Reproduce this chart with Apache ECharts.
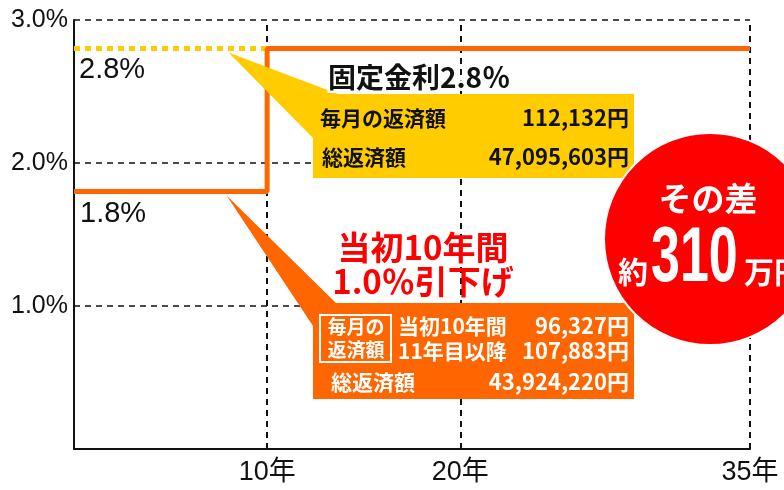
<!DOCTYPE html>
<html>
<head>
<meta charset="utf-8">
<script src="https://cdn.jsdelivr.net/npm/echarts@6/dist/echarts.min.js"></script>
<style>
  html, body { margin: 0; padding: 0; background: #fff; }
  #chart { width: 784px; height: 490px; }
</style>
</head>
<body>
<div id="chart"></div>
<script>
// 金利の推移（年, %）
const years = [0, 10, 35];
const rateReduced = [1.8, 2.8, 2.8];   // 当初10年間 1.0%引下げ
const fixedYears = [0, 35];
const rateFixed = [2.8, 2.8];          // 固定金利
const xTickLabels = { 10: '10年', 20: '20年', 35: '35年' };
const gridYears = [10, 20, 35];

// 返済額
const fixedRows = [['毎月の返済額', '112,132円'], ['総返済額', '47,095,603円']];
const reducedRows = [['当初10年間', '96,327円'], ['11年目以降', '107,883円']];
const reducedTotal = ['総返済額', '43,924,220円'];

const JP = '"Noto Sans CJK JP", sans-serif';
const LAT = '"Liberation Sans", Arial, "Noto Sans CJK JP", sans-serif';

const chart = echarts.init(document.getElementById('chart'));

let option = {
  animation: false,
  backgroundColor: '#fff',
  grid: { left: 74, right: 34, top: 20, bottom: 41 },
  xAxis: {
    type: 'value',
    min: 0,
    max: 35,
    interval: 5,
    axisLine: { lineStyle: { color: '#111', width: 2 } },
    axisTick: { show: false },
    splitLine: { show: false },
    axisLabel: {
      margin: 10,
      fontSize: 27,
      fontFamily: LAT,
      color: '#111',
      formatter: v => xTickLabels[v] || ''
    }
  },
  yAxis: {
    type: 'value',
    min: 0,
    max: 3,
    interval: 1,
    axisLine: { show: true, lineStyle: { color: '#111', width: 2 } },
    axisTick: { show: false },
    splitLine: { lineStyle: { color: '#111', type: [6, 5], width: 1.5 } },
    axisLabel: {
      margin: 6,
      fontSize: 25,
      fontFamily: LAT,
      color: '#111',
      formatter: v => (v === 0 ? '' : v.toFixed(1) + '%')
    }
  },
  series: [
    {
      name: '固定金利',
      type: 'line',
      symbol: 'none',
      z: 2,
      data: fixedYears.map((x, i) => [x, rateFixed[i]]),
      lineStyle: { color: '#ffcc00', width: 5, type: [6, 5] },
      markLine: {
        silent: true,
        z: 1,
        symbol: 'none',
        label: { show: false },
        lineStyle: { color: '#111', type: [6, 5], width: 2 },
        data: gridYears.map(x => ({ xAxis: x }))
      }
    },
    {
      name: '引下げ',
      type: 'line',
      step: 'end',
      symbol: 'none',
      z: 3,
      data: years.map((x, i) => [x, rateReduced[i]]),
      lineStyle: { color: '#ff6600', width: 5 }
    }
  ]
};
chart.setOption(option);

// 吹き出しの先端はデータ座標から
const p = (x, y) => chart.convertToPixel({ gridIndex: 0 }, [x, y]);
const tipY = p(8, rateFixed[0]);
const tipO = p(7.9, rateReduced[0]);
const lbl28 = p(0, rateFixed[0]);
const lbl18 = p(0, rateReduced[0]);

function txt(x, y, text, size, color, align, extra) {
  return Object.assign({
    type: 'text', x: x, y: y, z: 100,
    style: {
      text: text, fill: color,
      font: 'bold ' + size + 'px ' + JP,
      textAlign: align || 'left', textVerticalAlign: 'middle'
    }
  }, extra || {});
}

const g = [];
// 線ラベル
g.push({ type: 'text', x: lbl28[0] + 5, y: lbl28[1] + 21, z: 100,
  style: { text: '2.8%', fill: '#111', font: '29px ' + LAT, textVerticalAlign: 'middle' } });
g.push({ type: 'text', x: lbl18[0] + 6, y: lbl18[1] + 22, z: 100,
  style: { text: '1.8%', fill: '#111', font: '29px ' + LAT, textVerticalAlign: 'middle' } });

// 固定金利の吹き出し
g.push({ type: 'polygon', z: 90, shape: { points: [[tipY[0], tipY[1] + 4], [338, 94], [313, 94], [313, 138]] }, style: { fill: '#ffcc00' } });
g.push({ type: 'rect', z: 90, shape: { x: 313, y: 94, width: 321, height: 84 }, style: { fill: '#ffcc00' } });
g.push({ type: 'text', x: 328, y: 77, z: 99,
  style: { text: '固定金利2.8％', fill: '#fff', stroke: '#fff', lineWidth: 5, font: 'bold 28px ' + JP, textVerticalAlign: 'middle' } });
g.push(txt(328, 77, '固定金利2.8％', 28, '#111'));
g.push(txt(320, 118, fixedRows[0][0], 21, '#111'));
g.push(txt(629, 118, fixedRows[0][1], 22, '#111', 'right'));
g.push(txt(322, 157, fixedRows[1][0], 21, '#111'));
g.push(txt(629, 157, fixedRows[1][1], 22, '#111', 'right'));

// 引下げの吹き出し
g.push({ type: 'polygon', z: 90, shape: { points: [[tipO[0], tipO[1] + 4], [336, 303], [313, 303], [313, 326]] }, style: { fill: '#ff6600' } });
g.push({ type: 'rect', z: 90, shape: { x: 313, y: 303, width: 321, height: 96 }, style: { fill: '#ff6600' } });
g.push({ type: 'rect', z: 95, shape: { x: 320, y: 315, width: 71, height: 47 }, style: { fill: 'none', stroke: '#fff', lineWidth: 2 } });
g.push(txt(356, 327, '毎月の', 19, '#fff', 'center'));
g.push(txt(356, 350, '返済額', 19, '#fff', 'center'));
g.push(txt(398, 326, reducedRows[0][0], 21, '#fff'));
g.push(txt(629, 326, reducedRows[0][1], 22, '#fff', 'right'));
g.push(txt(398, 351, reducedRows[1][0], 21, '#fff'));
g.push(txt(629, 351, reducedRows[1][1], 22, '#fff', 'right'));
g.push(txt(331, 382, reducedTotal[0], 21, '#fff'));
g.push(txt(629, 382, reducedTotal[1], 22, '#fff', 'right'));

// 赤い見出し
g.push(txt(423, 247, '当初10年間', 33, '#ff0000', 'center'));
g.push(txt(423, 281, '1.0％引下げ', 33, '#ff0000', 'center'));

// その差
g.push({ type: 'circle', z: 110, shape: { cx: 710, cy: 239, r: 106 }, style: { fill: '#ff0000', stroke: '#fff', lineWidth: 2 } });
g.push(txt(708, 198, 'その差', 33, '#fff', 'center', { z: 120 }));
g.push(txt(618, 272, '約', 30, '#fff', 'left', { z: 120 }));
g.push({ type: 'text', x: 651, y: 259, z: 120, scaleY: 1.5,
  style: { text: '310', fill: '#fff', font: 'bold 52px ' + LAT, textVerticalAlign: 'middle' } });
g.push(txt(744, 272, '万円', 30, '#fff', 'left', { z: 120 }));

chart.setOption({ graphic: g });
</script>
</body>
</html>
